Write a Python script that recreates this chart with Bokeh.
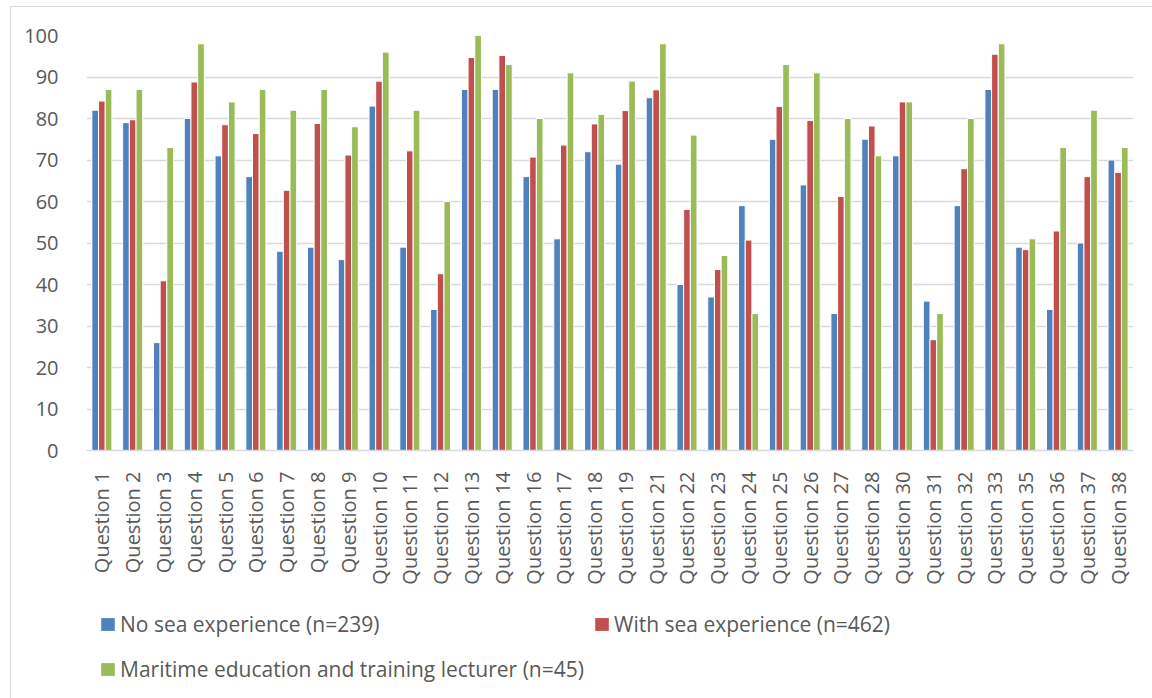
from bokeh.plotting import figure
from bokeh.layouts import column
from bokeh.models import FactorRange, Range1d, FixedTicker, Legend, LegendItem, ColumnDataSource
from bokeh.transform import dodge
from bokeh.embed import file_html
from bokeh.resources import INLINE

questions = ["Question 1", "Question 2", "Question 3", "Question 4", "Question 5", "Question 6",
             "Question 7", "Question 8", "Question 9", "Question 10", "Question 11", "Question 12",
             "Question 13", "Question 14", "Question 16", "Question 17", "Question 18", "Question 19",
             "Question 21", "Question 22", "Question 23", "Question 24", "Question 25", "Question 26",
             "Question 27", "Question 28", "Question 30", "Question 31", "Question 32", "Question 33",
             "Question 35", "Question 36", "Question 37", "Question 38"]

no_sea = [82, 79, 26, 80, 71, 66, 48, 49, 46, 83, 49, 34, 87, 87, 66, 51, 72, 69,
          85, 40, 37, 59, 75, 64, 33, 75, 71, 36, 59, 87, 49, 34, 50, 70]
with_sea = [84.2, 79.7, 40.9, 88.8, 78.5, 76.4, 62.7, 78.8, 71.2, 89, 72.2, 42.6, 94.7, 95.2,
            70.7, 73.6, 78.7, 81.9, 86.9, 58.1, 43.6, 50.7, 82.9, 79.5, 61.2, 78.2, 84, 26.7,
            67.9, 95.5, 48.4, 52.9, 66, 67]
lecturer = [87, 87, 73, 98, 84, 87, 82, 87, 78, 96, 82, 60, 100, 93, 80, 91, 81, 89,
            98, 76, 47, 33, 93, 91, 80, 71, 84, 33, 80, 98, 51, 73, 82, 73]

series_names = ["No sea experience (n=239)", "With sea experience (n=462)",
                "Maritime education and training lecturer (n=45)"]
colors = ["#4F81BD", "#C0504D", "#9BBB59"]
y_ticks = [0, 10, 20, 30, 40, 50, 60, 70, 80, 90, 100]

source = ColumnDataSource(dict(q=questions, a=no_sea, b=with_sea, c=lecturer))

FONT = "Open Sans"
TXT = "#595959"
GRID = "#d9d9d9"

p = figure(x_range=FactorRange(*questions), y_range=Range1d(0, 100),
           width=1141, height=593, output_backend="svg", toolbar_location=None,
           min_border_left=75, min_border_right=19, min_border_top=28, min_border_bottom=150)
p.outline_line_color = None
p.background_fill_color = "white"
p.border_fill_color = "white"

off = 0.217
renderers = []
for col, dx, colr in zip(["a", "b", "c"], [-off, 0, off], colors):
    r = p.vbar(x=dodge("q", dx, range=p.x_range), top=col, width=off, source=source,
               fill_color=colr, line_color="white", line_width=1)
    renderers.append(r)

p.xgrid.grid_line_color = None
p.ygrid.grid_line_color = GRID
p.ygrid.grid_line_width = 1.5
p.yaxis.ticker = FixedTicker(ticks=y_ticks)
p.yaxis.axis_line_color = None
p.yaxis.major_tick_line_color = None
p.yaxis.minor_tick_line_color = None
p.yaxis.major_label_standoff = 22
p.yaxis.major_label_text_font = FONT
p.yaxis.major_label_text_font_size = "20px"
p.yaxis.major_label_text_color = TXT

p.xaxis.axis_line_color = GRID
p.xaxis.axis_line_width = 1.5
p.xaxis.major_tick_line_color = None
p.xaxis.minor_tick_line_color = None
p.xaxis.major_label_orientation = 1.5707963
p.xaxis.major_label_standoff = 15
p.xaxis.major_label_text_font = FONT
p.xaxis.major_label_text_font_size = "20px"
p.xaxis.major_label_text_color = TXT

# legend panel below the chart (its frame is aligned with the chart's frame by the column)
lp = figure(width=1141, height=98, output_backend="svg", toolbar_location=None,
            x_range=Range1d(0, 1), y_range=Range1d(0, 1),
            x_axis_location=None, y_axis_location=None,
            min_border_left=0, min_border_right=0, min_border_top=0, min_border_bottom=0)
lp.outline_line_color = None
lp.xgrid.grid_line_color = None
lp.ygrid.grid_line_color = None
lp.border_fill_color = "white"

locs = [(13, 60), (507, 60), (13, 15)]
for name, colr, loc in zip(series_names, colors, locs):
    r = lp.quad(left=[-10], right=[-9], bottom=[0], top=[1], fill_color=colr, line_color=None)
    lg = Legend(items=[LegendItem(label=name, renderers=[r])], location=loc,
                orientation="vertical", padding=0, margin=0, spacing=0,
                glyph_width=17, glyph_height=16, label_standoff=4,
                label_text_font=FONT, label_text_font_size="21px", label_text_color=TXT,
                border_line_color=None, background_fill_alpha=0)
    lp.add_layout(lg, "center")

layout = column(p, lp, spacing=0,
                styles={"margin-left": "10px", "margin-top": "6px",
                        "border-left": "1px solid #d9d9d9", "border-top": "1px solid #d9d9d9"})

open("out.html", "w").write(file_html(layout, INLINE))
